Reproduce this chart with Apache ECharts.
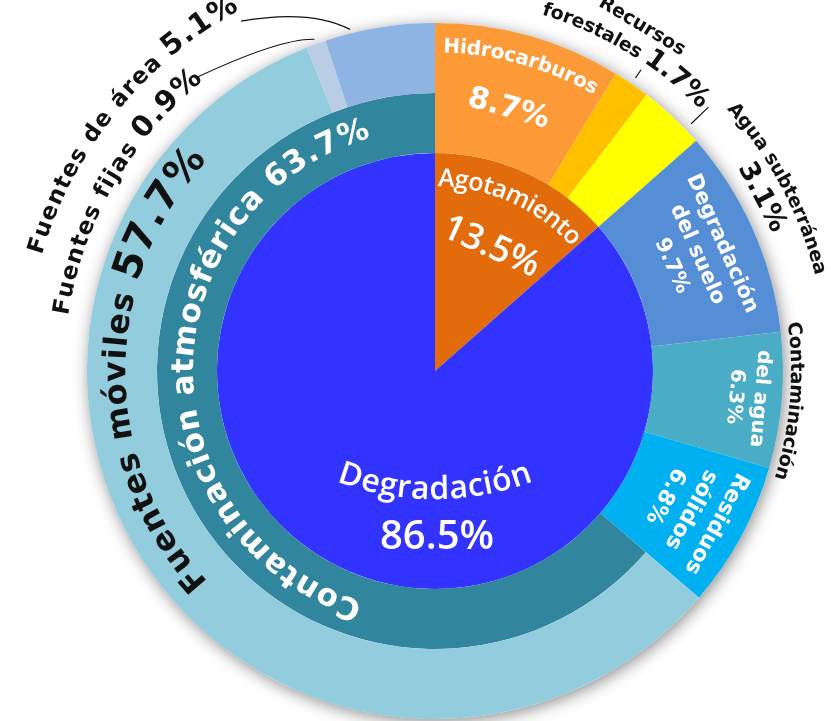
<!DOCTYPE html>
<html>
<head>
<meta charset="utf-8">
<script src="https://cdn.jsdelivr.net/npm/echarts@6/dist/echarts.min.js"></script>
<style>
  html, body { margin: 0; background: #fff; }
  #chart { width: 831px; height: 721px; }
</style>
</head>
<body>
<div id="chart"></div>
<script>
// inner pie
const topNames = ['Agotamiento', 'Degradación'];
const topValues = [13.5, 86.5];
const topColors = ['#E26C0B', '#3333FF'];

// middle ring, clockwise from 12 o'clock (the last one is split again outside)
const midNames = ['Hidrocarburos', 'Recursos forestales', 'Agua subterránea', 'Degradación del suelo',
  'Contaminación del agua', 'Residuos sólidos', 'Contaminación atmosférica'];
const midValues = [8.7, 1.7, 3.1, 9.7, 6.3, 6.8, 63.7];
const midColors = ['#FD9A38', '#FFC000', '#FFFF00', '#558ED5', '#4BACC6', '#00B0F0', '#31859C'];

// sources of air pollution
const airNames = ['Fuentes móviles', 'Fuentes fijas', 'Fuentes de área'];
const airValues = [57.7, 0.9, 5.1];
const airColors = ['#93CDDD', '#B9CDE5', '#8EB4E3'];

const CX = 435, CY = 371;
const R_IN = 218, R_AIR = 278, R_OUT = 348;

const pct = v => v.toFixed(1) + '%';
const rad = d => d * Math.PI / 180;
const polar = (deg, r) => [CX + r * Math.sin(rad(deg)), CY - r * Math.cos(rad(deg))];

// angular spans (degrees clockwise from 12 o'clock)
function spans(values, start) {
  let a = start;
  return values.map(v => { const s = a; a += v * 3.6; return [s, a]; });
}
const midOf = sp => (sp[0] + sp[1]) / 2;
const topSpan = spans(topValues, 0);
const midSpan = spans(midValues, 0);
const airSpan = spans(airValues, midSpan[6][0]);

const mctx = document.createElement('canvas').getContext('2d');

// text bent along a circle; dir 1 = clockwise with tops outward, -1 = along the bottom with tops inward
function arcText(segs, mid, rc, opt) {
  const o = Object.assign({ color: '#fff', family: 'DejaVu Sans', weight: 'bold', ls: 0, dir: 1, cx: CX, cy: CY }, opt);
  const base = segs[0][1];
  const chars = [];
  segs.forEach(([text, size]) => {
    const font = `${o.weight} ${size}px "${o.family}"`;
    mctx.font = font;
    for (const ch of text) chars.push({ ch, font, size, w: mctx.measureText(ch).width + o.ls });
  });
  const total = chars.reduce((t, c) => t + c.w, 0) - o.ls;
  let s = -total / 2;
  return chars.map(c => {
    const a = rad(mid) + o.dir * (s + (c.w - o.ls) / 2) / rc;
    s += c.w;
    const r = rc + o.dir * (c.size - base) * 0.35;
    return {
      type: 'text', x: o.cx + r * Math.sin(a), y: o.cy - r * Math.cos(a),
      rotation: o.dir > 0 ? -a : Math.PI - a, z: 50, silent: true,
      style: { text: c.ch, font: c.font, fill: o.color, align: 'center', verticalAlign: 'middle' }
    };
  });
}

// straight text laid along the tangent, tops outward
function tangText(text, deg, r, size, opt) {
  const o = Object.assign({ color: '#fff', family: 'DejaVu Sans', weight: 'bold' }, opt);
  const [x, y] = polar(deg, r);
  return {
    type: 'text', x, y, rotation: -rad(deg), z: 50, silent: true,
    style: { text, font: `${o.weight} ${size}px "${o.family}"`, fill: o.color, align: 'center', verticalAlign: 'middle' }
  };
}

function line(a, b) {
  return { type: 'line', z: 50, silent: true, shape: { x1: a[0], y1: a[1], x2: b[0], y2: b[1] }, style: { stroke: '#111', lineWidth: 1.2 } };
}
function curve(a, cp, b) {
  return {
    type: 'bezierCurve', z: 50, silent: true,
    shape: { x1: a[0], y1: a[1], cpx1: cp[0], cpy1: cp[1], x2: b[0], y2: b[1] },
    style: { stroke: '#111', lineWidth: 1.2, fill: 'none' }
  };
}

const black = { color: '#111' };
const els = [];

// Agotamiento / Degradación
const mA = midOf(topSpan[0]);
els.push(...arcText([[topNames[0], 25]], mA, 192, { family: 'Open Sans', weight: 600 }));
els.push(tangText(pct(topValues[0]), mA, 136, 36, { family: 'Open Sans', weight: 600 }));
els.push(...arcText([[topNames[1], 32]], 180, 270, { family: 'Open Sans', weight: 600, dir: -1, cy: CY + 119 - 270 }));
els.push({
  type: 'text', x: CX + 2, y: CY + 167, z: 50, silent: true,
  style: { text: pct(topValues[1]), font: '600 40px "Open Sans"', fill: '#fff', align: 'center', verticalAlign: 'middle' }
});

// Hidrocarburos
const m0 = midOf(midSpan[0]);
els.push(...arcText([[midNames[0], 20]], m0, 324, {}));
els.push(tangText(pct(midValues[0]), m0, 272, 30));

// Recursos forestales (outside)
const m1 = midOf(midSpan[1]);
const [rec, fores] = midNames[1].split(' ');
els.push(tangText(rec, 31, 402, 19, black));
els.push(...arcText([[fores + ' ', 19], [pct(midValues[1]), 27]], 31, 377, black));
els.push(line(polar(m1, 355), polar(m1, 365)));

// Agua subterránea (outside)
const m2 = midOf(midSpan[2]);
els.push(...arcText([[midNames[2], 19]], 62, 397, black));
els.push(tangText(pct(midValues[2]), 62, 370, 27, black));
els.push(line(polar(m2 + 3, 356), polar(m2 + 3, 380)));

// Degradación del suelo
const m3 = midOf(midSpan[3]);
const suelo = ['Degradación', 'del suelo', pct(midValues[3])];
[314, 287, 259].forEach((r, i) => els.push(tangText(suelo[i], m3, r, 21)));

// Contaminación del agua
const m4 = midOf(midSpan[4]);
els.push(...arcText([['Contaminación', 19]], m4, 361, black));
els.push(tangText('del agua', m4, 326, 20));
els.push(tangText(pct(midValues[4]), m4, 301, 20));

// Residuos sólidos
const m5 = midOf(midSpan[5]);
const resid = ['Residuos', 'sólidos', pct(midValues[5])];
[320, 291, 262].forEach((r, i) => els.push(tangText(resid[i], m5, r, 22)));

// Contaminación atmosférica and its sources
els.push(...arcText([[midNames[6] + ' ' + pct(midValues[6]), 31]], 271, 250, { ls: 1.5 }));
els.push(...arcText([[airNames[0] + ' ', 32], [pct(airValues[0]), 40]], 270, 318, { color: '#111', ls: 1.5 }));
els.push(...arcText([[airNames[1] + ' ', 23], [pct(airValues[1]), 29]], 300, 377, { color: '#111', ls: 1.5 }));
els.push(...arcText([[airNames[2] + ' ', 23], [pct(airValues[2]), 29]], 309, 416, { color: '#111', ls: 1.5 }));
els.push(curve(polar(midOf(airSpan[1]), 353), polar(335, 367), polar(321, 378)));
els.push(curve(polar(airSpan[2][0] + 4.4, 352), polar(341, 383), polar(331, 400)));

function pie(radius, data, z) {
  return {
    type: 'pie', center: [CX, CY], radius, startAngle: 90, clockwise: true,
    silent: true, animation: false, z,
    label: { show: false }, labelLine: { show: false }, emphasis: { disabled: true },
    itemStyle: { borderWidth: 0 },
    data
  };
}
const blank = v => ({ value: v, itemStyle: { color: 'rgba(0,0,0,0)' } });
const item = (name, value, color) => ({ name, value, itemStyle: { color } });
const restOfMid = midValues.slice(0, 6).reduce((a, b) => a + b, 0);

const chart = echarts.init(document.getElementById('chart'));
chart.setOption({
  animation: false,
  graphic: { elements: els },
  series: [
    pie([0, R_OUT], [{ value: 1, itemStyle: { color: '#fff', shadowBlur: 16, shadowColor: 'rgba(0,0,0,0.45)', shadowOffsetX: 2, shadowOffsetY: 3 } }], 1),
    pie([0, R_IN], topNames.map((n, i) => item(n, topValues[i], topColors[i])), 2),
    pie([R_IN, R_OUT], midNames.slice(0, 6).map((n, i) => item(n, midValues[i], midColors[i])).concat([blank(midValues[6])]), 2),
    pie([R_IN, R_AIR], [blank(restOfMid), item(midNames[6], midValues[6], midColors[6])], 2),
    pie([R_AIR, R_OUT], [blank(restOfMid)].concat(airNames.map((n, i) => item(n, airValues[i], airColors[i]))), 2)
  ]
});
</script>
</body>
</html>
